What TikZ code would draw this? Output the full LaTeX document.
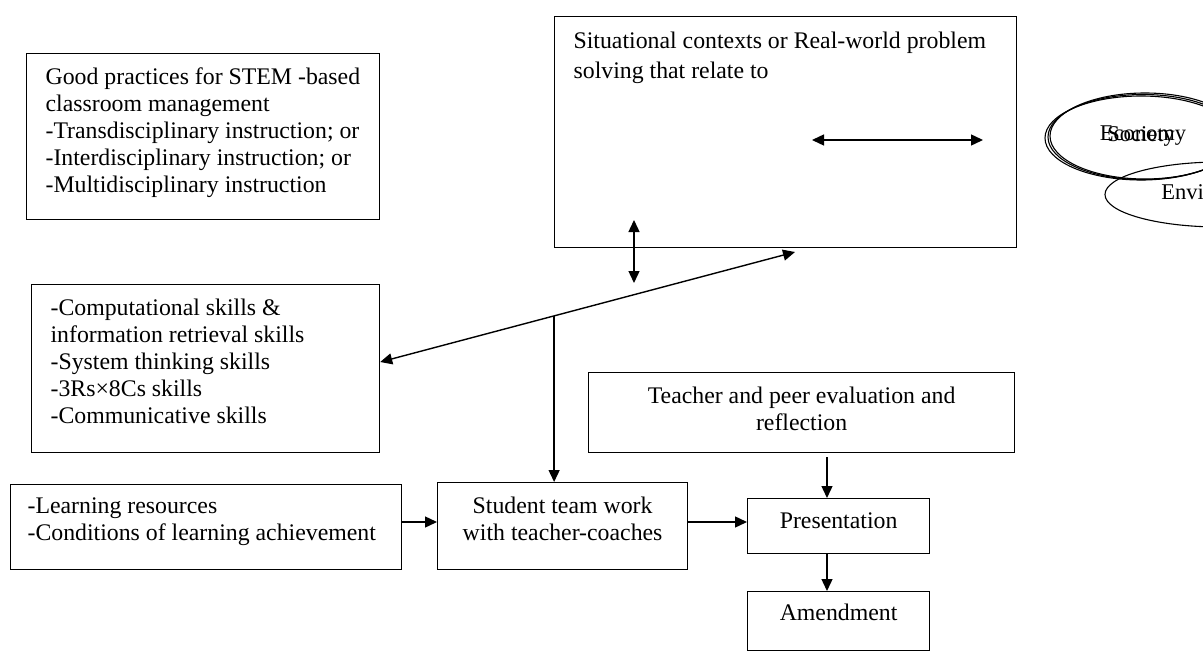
\documentclass[tikz,border=0pt]{standalone}
\usepackage{fontspec}
\setmainfont{Liberation Serif}
\usetikzlibrary{arrows.meta,calc,shapes.geometric}
% #1 height, #2 width, #3 alignment commands, #4 first baseline, #5 text
\newcommand\bxtext[5]{\parbox[c][#1][t]{#2}{#3\rule{0pt}{#4}#5}}
\begin{document}
\begin{tikzpicture}[x=1pt,y=-1pt,
  bx/.style={draw, line width=1.2pt, inner sep=0pt, anchor=north west,
    font=\fontsize{23.8pt}{27pt}\selectfont},
  arr/.style={line width=1.4pt, -{Triangle[length=12pt,width=11pt]}},
  dbl/.style={line width=1.4pt, {Triangle[length=12pt,width=11pt]}-{Triangle[length=12pt,width=11pt]}},
  ell/.style={draw, ellipse, line width=1.1pt, inner sep=0pt,
    font=\fontsize{22.5pt}{25pt}\selectfont}
]
\clip (0,0) rectangle (1203,666);
\fill[white] (0,0) rectangle (1203,666);

% boxes
\node[bx] (gp) at (26,53) {\bxtext{166pt}{353pt}{\leftskip=19pt\relax}{31pt}{Good practices for STEM -based\\classroom management\\-Transdisciplinary instruction; or\\-Interdisciplinary instruction; or\\-Multidisciplinary instruction}};

\node[bx] (sit) at (554,16) {\bxtext{231pt}{462pt}{\leftskip=19pt\relax\baselineskip=30pt\relax}{32pt}{Situational contexts or Real-world problem\\solving that relate to}};

\node[bx] (comp) at (31,284) {\bxtext{168pt}{348pt}{\leftskip=19pt\relax}{31pt}{-Computational skills \&\\information retrieval skills\\-System thinking skills\\-3Rs×8Cs skills\\-Communicative skills}};

\node[bx] (learn) at (10,484) {\bxtext{85pt}{391pt}{\leftskip=17pt\relax}{29pt}{-Learning resources\\-Conditions of learning achievement}};

\node[bx] (stu) at (437,482) {\bxtext{87pt}{250pt}{\centering}{31pt}{Student team work\\with teacher-coaches}};

\node[bx] (teach) at (588,372) {\bxtext{80pt}{426pt}{\centering}{31pt}{Teacher and peer evaluation and\\reflection}};

\node[bx] (pres) at (747,498) {\bxtext{55pt}{182pt}{\centering}{30pt}{Presentation}};

\node[bx] (amend) at (747,591) {\bxtext{59pt}{182pt}{\centering}{29pt}{Amendment}};

% ellipses on the right
\node[ell, minimum width=190pt, minimum height=85pt] (eco) at (1143,137) {\raisebox{7pt}{Economy}};
\node[ell, minimum width=192pt, minimum height=84pt] (soc) at (1141,138) {\raisebox{7pt}{Society}};
\node[ell, minimum width=190pt, minimum height=86pt] (oth) at (1145,136) {};
\node[ell, minimum width=230pt, minimum height=65pt] (env) at (1220,194.5) {\raisebox{4pt}{Environment}};

% connectors
\coordinate (h1) at (812,140);
\coordinate (h2) at (983,140);
\draw[dbl] (h1) -- (h2);

\coordinate (v1) at (634,220);
\coordinate (v2) at (634,283);
\draw[dbl] (v1) -- (v2);

\coordinate (d1) at (comp.east |- 0,362);
\coordinate (d2) at (795,252);
\draw[dbl] (d1) -- (d2);

\coordinate (sj) at ($(d1)!0.4193!(d2)$);
\draw[arr] (sj) -- (sj |- stu.north);

\draw[arr] (learn.east |- 0,522) -- (stu.west |- 0,522);
\draw[arr] (stu.east |- 0,522) -- (pres.west |- 0,522);

\coordinate (t1) at (827,457);
\draw[arr] (t1) -- (t1 |- pres.north);
\draw[arr] (pres.south -| t1) -- (amend.north -| t1);
\end{tikzpicture}
\end{document}
